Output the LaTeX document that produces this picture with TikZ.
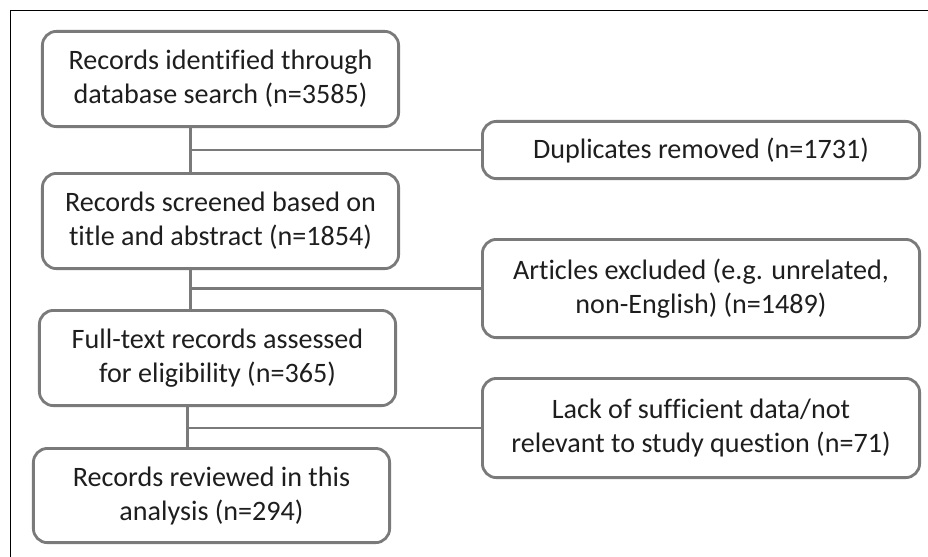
\documentclass[tikz,border=0pt]{standalone}
\usepackage{fontspec}
\setmainfont[Ligatures=NoCommon]{Carlito}
\usetikzlibrary{positioning}
\definecolor{boxline}{HTML}{7A7A7A}
\definecolor{ink}{HTML}{1E1E1E}
\tikzset{
  stage/.style={rectangle,rounded corners=0.35cm,draw=boxline,line width=2pt,fill=white,
                minimum width=8.905cm,minimum height=2.38cm,align=center,text=ink,
                font=\fontsize{20}{24.2}\selectfont},
  side/.style={stage,minimum width=10.93cm},
  link/.style={draw=boxline,line width=2pt},
  frame/.style={draw=black,line width=1.1pt}
}

\begin{document}
\begin{tikzpicture}
  \useasboundingbox (0,0) rectangle (23.2,-13.925);
  \draw[frame] (0.2625,-13.925) -- (0.2625,-0.2625) -- (23.2,-0.2625);

  % Main stages
  \node[stage] (ident) at (5.5125,-1.975) {Records identified through\\database search (n=3585)};
  \node[stage, below=1.1cm of ident] (screen) {Records screened based on\\title and abstract (n=1854)};
  \node[stage, below=0.975cm of screen, xshift=-0.075cm] (assess) {Full-text records assessed\\for eligibility (n=365)};
  \node[stage, below=1cm of assess, xshift=-0.15cm, minimum height=2.355cm] (review) {Records reviewed in this\\analysis (n=294)};

  % Exclusions
  \node[side, right=2.025cm of ident, yshift=-1.775cm, minimum height=1.43cm] (dup) {Duplicates removed (n=1731)};
  \node[side, right=2.025cm of screen, yshift=-1.6875cm, minimum height=2.455cm] (excl) {Articles excluded (e.g. unrelated,\\non-English) (n=1489)};
  \node[side, right=2.1cm of assess, yshift=-1.75cm, minimum height=2.48cm] (lack) {Lack of sufficient data/not\\relevant to study question (n=71)};

  \coordinate (s1) at ([xshift=-0.75cm]ident.south);
  \coordinate (s2) at ([xshift=-0.75cm]screen.south);
  \coordinate (s3) at ([xshift=-0.75cm]assess.south);

  \draw[link] (s1) -- (s1 |- screen.north);
  \draw[link] (s2) -- (s2 |- assess.north);
  \draw[link] (s3) -- (s3 |- review.north);
  \draw[link] (dup.west) -- (dup.west -| s1);
  \draw[link] (excl.west) -- (excl.west -| s2);
  \draw[link] (lack.west) -- (lack.west -| s3);
\end{tikzpicture}
\end{document}
